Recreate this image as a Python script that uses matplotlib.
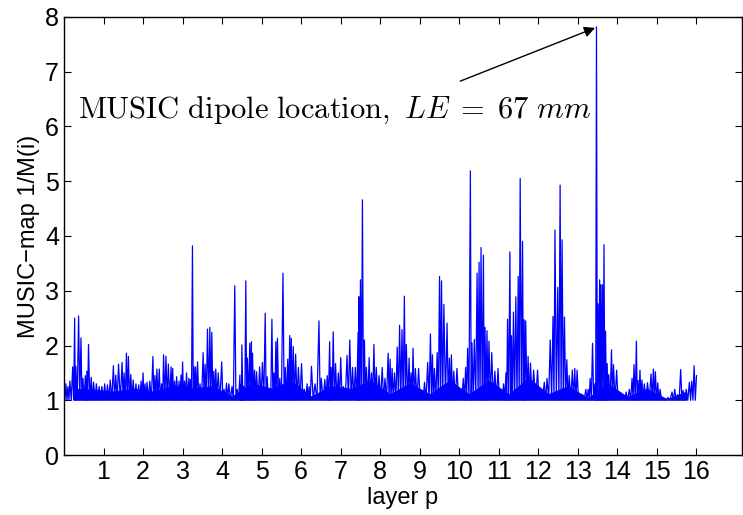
import numpy as np
import matplotlib

matplotlib.use("Agg")
import matplotlib.pyplot as plt

# spike positions (layer units) and heights
spike_x = [
    0.05, 0.10, 0.15, 0.22, 0.27, 0.30, 0.37, 0.43, 0.48, 0.54, 0.58, 0.62, 0.69, 0.75, 0.82, 0.89, 0.96,
    1.03, 1.10, 1.17, 1.25, 1.31, 1.38, 1.47, 1.52, 1.58, 1.63, 1.69, 1.75, 1.82, 1.89, 1.95,
    2.00, 2.05, 2.10, 2.17, 2.25, 2.30, 2.35, 2.41, 2.47, 2.52, 2.58, 2.64, 2.71, 2.75, 2.80, 2.85, 2.91, 2.96,
    3.00, 3.05, 3.10, 3.16, 3.20, 3.25, 3.29, 3.33, 3.38, 3.44, 3.52, 3.57, 3.63, 3.69, 3.74, 3.79, 3.84, 3.90, 3.99,
    4.05, 4.11, 4.17, 4.25, 4.32, 4.38, 4.45, 4.48, 4.50, 4.55, 4.60, 4.64, 4.70, 4.74, 4.77, 4.82, 4.87, 4.95,
    5.02, 5.09, 5.14, 5.20, 5.26, 5.31, 5.36, 5.40, 5.46, 5.54, 5.60, 5.66, 5.71, 5.75, 5.80, 5.86, 5.93,
    6.01, 6.08, 6.15, 6.20, 6.26, 6.35, 6.45, 6.51, 6.60, 6.66, 6.72, 6.76, 6.81, 6.87, 6.94,
    7.00, 7.07, 7.16, 7.23, 7.30, 7.37, 7.44, 7.46, 7.50, 7.55, 7.60, 7.65, 7.72, 7.78, 7.84, 7.90, 7.97,
    8.05, 8.12, 8.20, 8.25, 8.30, 8.36, 8.43, 8.49, 8.55, 8.61, 8.66, 8.73, 8.78, 8.83, 8.89, 8.97,
    9.05, 9.12, 9.20, 9.27, 9.32, 9.37, 9.44, 9.50, 9.55, 9.61, 9.69, 9.75, 9.80, 9.86, 9.94,
    10.03, 10.10, 10.16, 10.21, 10.28, 10.32, 10.38, 10.45, 10.50, 10.55, 10.61, 10.65, 10.70, 10.75, 10.82, 10.90, 10.98,
    11.05, 11.12, 11.18, 11.22, 11.28, 11.32, 11.37, 11.43, 11.49, 11.54, 11.60, 11.64, 11.68, 11.74, 11.80, 11.88, 11.98,
    12.05, 12.15, 12.22, 12.30, 12.37, 12.42, 12.49, 12.55, 12.60, 12.66, 12.72, 12.78, 12.86, 12.92, 12.98,
    13.05, 13.12, 13.20, 13.26, 13.31, 13.37, 13.43, 13.47, 13.51, 13.55, 13.58, 13.62, 13.66, 13.70, 13.74, 13.78,
    13.85, 13.90, 13.98,
    14.05, 14.15, 14.22, 14.30, 14.37, 14.42, 14.48, 14.52, 14.57, 14.62, 14.68, 14.76, 14.85, 14.91, 14.96,
    15.02, 15.08, 15.15, 15.28, 15.38, 15.45, 15.52, 15.60, 15.66, 15.74, 15.82, 15.88, 15.94, 16.00,
]
spike_y = [
    1.30, 1.25, 1.35, 1.61, 2.50, 1.62, 2.54, 2.14, 1.40, 1.45, 1.53, 2.02, 1.42, 1.33, 1.30, 1.25, 1.25,
    1.30, 1.28, 1.37, 1.63, 1.46, 1.66, 1.69, 1.50, 1.86, 1.80, 1.47, 1.37, 1.30, 1.28, 1.35,
    1.50, 1.30, 1.33, 1.35, 1.80, 1.45, 1.57, 1.57, 1.30, 1.83, 1.80, 1.66, 1.61, 1.58, 1.35, 1.43, 1.35, 1.46,
    1.70, 1.35, 1.50, 1.40, 1.38, 3.82, 1.61, 1.61, 1.70, 1.30, 1.87, 1.66, 2.30, 2.33, 2.24, 1.53, 1.57, 1.50, 1.70,
    1.20, 1.31, 1.30, 1.25, 3.09, 1.20, 1.46, 1.28, 2.01, 1.25, 3.18, 1.77, 2.04, 2.07, 1.86, 1.55, 1.52, 1.61,
    1.69, 2.59, 1.43, 1.19, 2.48, 1.50, 2.07, 2.13, 1.40, 3.32, 1.60, 1.75, 2.18, 2.13, 1.98, 1.84, 1.60,
    1.67, 1.20, 1.30, 1.25, 1.62, 1.30, 2.45, 1.40, 1.38, 1.45, 2.07, 1.60, 2.25, 1.67, 1.50,
    1.78, 1.25, 1.82, 2.10, 1.60, 1.60, 2.24, 2.89, 3.20, 4.66, 2.10, 1.60, 1.78, 1.50, 2.02, 1.60, 1.45,
    1.60, 1.40, 1.86, 1.75, 1.58, 1.50, 1.97, 2.37, 2.29, 2.90, 2.02, 1.77, 1.50, 1.95, 1.58, 1.58,
    1.15, 1.33, 1.69, 2.21, 1.83, 1.58, 1.87, 3.26, 3.18, 2.75, 2.41, 1.77, 1.83, 1.53, 1.58,
    1.18, 1.40, 1.60, 1.95, 5.19, 2.05, 2.11, 3.32, 3.52, 3.79, 3.65, 2.33, 2.27, 2.08, 1.87, 1.53, 1.58,
    1.10, 1.30, 1.50, 2.48, 3.71, 2.18, 2.61, 2.89, 3.26, 5.05, 3.90, 2.47, 2.45, 1.80, 1.68, 1.55, 1.55,
    1.05, 1.33, 1.40, 2.10, 2.53, 4.11, 3.06, 4.93, 3.93, 2.52, 1.74, 1.45, 1.55, 1.58, 1.55,
    1.05, 1.10, 1.20, 1.20, 1.40, 2.04, 1.30, 7.82, 2.76, 3.20, 3.11, 3.11, 3.84, 2.26, 1.67, 1.47,
    1.92, 1.65, 1.55,
    1.10, 1.05, 1.15, 1.20, 1.40, 1.65, 2.08, 1.36, 1.55, 1.37, 1.30, 1.32, 1.48, 1.57, 1.52,
    1.32, 1.20, 1.02, 1.05, 1.15, 1.20, 1.10, 1.56, 1.18, 1.20, 1.33, 1.35, 1.63, 1.45,
]
baseline = 1.0

# level of the dense low-amplitude band, per half layer
band_x = np.arange(0.25, 16.0, 0.5)
band_y = [
    1.22, 1.20, 1.17, 1.22, 1.17, 1.27, 1.22, 1.27, 1.08, 1.32, 1.22, 1.37, 1.08, 1.27, 1.22, 1.37,
    1.12, 1.32, 1.12, 1.37, 1.12, 1.37, 1.12, 1.42, 1.12, 1.27, 1.05, 1.32, 1.07, 1.22, 1.03, 1.17,
]

layer_ticks = list(range(1, 17))

plt.rcParams["font.family"] = ["Liberation Sans", "DejaVu Sans"]
plt.rcParams["mathtext.fontset"] = "cm"

fig = plt.figure(figsize=(7.43, 5.15), dpi=100)
ax = fig.add_axes([0.0861, 0.1165, 0.9125, 0.8505])

# zigzag: every spike drops back to the baseline
xs, ys = [], []
prev = 0.0
for sx, sy in zip(spike_x, spike_y):
    xs += [(prev + sx) / 2, sx]
    ys += [baseline, sy]
    prev = sx
ax.plot(xs, ys, color="#0000ff", lw=0.9)
ax.fill_between(band_x, baseline, band_y, color="#0000ff", lw=0)

ax.set_xlim(0, 17.15)
ax.set_ylim(0, 8)
ax.set_xticks(layer_ticks)
ax.set_yticks(range(0, 9))
ax.tick_params(direction="in", top=True, right=True, length=5, labelsize=18, width=0.8)
for s in ax.spines.values():
    s.set_linewidth(1.0)
ax.set_xlabel("layer p", fontsize=17, labelpad=2)
ax.set_ylabel("MUSIC\u2212map 1/M(i)", fontsize=17, labelpad=4)

ax.annotate("", xy=(13.50, 7.82), xytext=(9.96, 6.81),
            arrowprops=dict(arrowstyle="-|>", color="k", lw=1.0, mutation_scale=16))
ax.text(0.35, 6.16, r"$\mathrm{MUSIC\ dipole\ location,}\ LE\;=\;67\ mm$",
        fontsize=22, ha="left", va="baseline")

fig.savefig("out.png", dpi=100)
